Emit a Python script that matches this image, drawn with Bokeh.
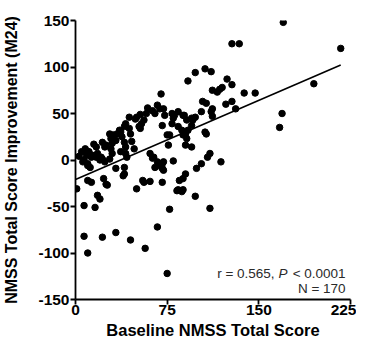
from bokeh.plotting import figure
from bokeh.models import Label, FixedTicker
from bokeh.embed import file_html
from bokeh.resources import INLINE

# Baseline NMSS total score (x) and improvement at M24 (y)
baseline = [170, 217, 128, 134, 195, 169, 167, 92, 98, 106, 111, 70, 124, 128, 138, 147,
            112, 116, 118, 120, 104, 107, 112, 123, 128, 131, 103, 111, 112, 79, 84, 88, 95, 91,
            67, 69, 63, 65, 58, 53, 50, 56, 54, 52, 53, 41, 40, 44, 45, 37, 34, 38, 28, 31, 33,
            30, 22, 24, 29, 30, 28, 40, 41, 37, 41, 42, 17, 18, 11, 9, 13, 7, 10, 6, 22, 24, 20,
            61, 64, 67, 65, 71, 72, 77, 72, 73, 71, 75, 76, 80, 79, 81, 89, 84, 87, 90, 92, 95,
            96, 98, 88, 91, 106, 107, 90, 95, 72, 80, 71, 71, 110, 108, 103, 99, 119, 90, 88, 85,
            88, 84, 10, 12, 1, 10, 13, 23, 25, 26, 18, 20, 7, 16, 33, 40, 40, 39, 50, 55, 56, 61,
            68, 77, 67, 33, 7, 10, 22, 45, 57, 75, 98, 110, 87, 83,
            5, 8, 14, 17, 21, 25, 29, 36, 44, 49, 59, 63, 3, 15, 46, 48]
improvement = [148, 120, 125, 125, 82, 50, 35, 85, 94, 98, 95, 71, 87, 81, 72, 72,
               75, 73, 76, 78, 63, 61, 55, 60, 63, 55, 52, 52, 47, 50, 52, 48, 45, 43,
               59, 55, 53, 50, 50, 49, 46, 43, 39, 36, 34, 39, 36, 34, 28, 30, 28, 25, 28, 27, 21,
               18, 19, 14, 12, 7, 1, 19, 14, 9, 7, 3, 14, 7, 9, 5, 3, 0, -4, -2, 1, -2, 0,
               7, 3, -2, -8, -4, -11, 27, 55, 48, 37, 27, 16, 45, 39, 48, 48, 36, 32, 28, 32, 37,
               43, 46, 27, 23, 30, 28, 16, 14, -2, -1, -9, -24, 7, 3, -4, -9, -2, -15, -20, -22,
               -32, -32, -6, -8, -31, -22, -24, -20, -26, -27, -38, -42, -49, -51, -9, -8, -15, -17, -31, -22, -24, -23,
               -6, -53, -72, -78, -82, -100, -83, -86, -95, -122, -39, -52, -34, -33,
               9, 12, 5, 3, 3, 16, 23, 32, 46, 44, 56, 2, 4, 17, 20, 12]

fit_x = [0, 217]
fit_y = [-21 + 0.567 * v for v in fit_x]

x_ticks = [0, 75, 150, 225]
y_ticks = [-150, -100, -50, 0, 50, 100, 150]
y_tick_labels = {t: str(t) for t in y_ticks}

FONT = "Liberation Sans"

p = figure(width=356, height=345, x_range=(0, 225), y_range=(-150, 150),
           output_backend="svg", toolbar_location=None,
           min_border_left=71, min_border_right=6, min_border_top=20, min_border_bottom=46)
p.outline_line_color = None
p.grid.visible = False
p.background_fill_color = "white"
p.border_fill_color = "white"

p.scatter(baseline, improvement, size=6.5, color="black", marker="circle")
p.line(fit_x, fit_y, line_color="black", line_width=1.6)

for ax in (p.xaxis[0], p.yaxis[0]):
    ax.axis_line_width = 1.8
    ax.axis_line_color = "black"
    ax.major_tick_line_width = 1.8
    ax.major_tick_line_color = "black"
    ax.major_tick_out = 5
    ax.major_tick_in = 0
    ax.minor_tick_line_color = None
    ax.major_label_text_font = FONT
    ax.major_label_text_font_style = "bold"
    ax.major_label_text_font_size = "15.5px"
    ax.major_label_text_color = "black"
    ax.axis_label_text_font = FONT
    ax.axis_label_text_font_style = "bold"
    ax.axis_label_text_color = "black"

p.xaxis.ticker = FixedTicker(ticks=x_ticks)
p.yaxis.ticker = FixedTicker(ticks=y_ticks)
p.yaxis.major_label_overrides = y_tick_labels
p.xaxis.major_label_standoff = 0
p.yaxis.major_label_standoff = 1
p.xaxis.axis_label = "Baseline NMSS Total Score"
p.xaxis.axis_label_text_font_size = "16.5px"
p.xaxis.axis_label_standoff = 3
p.yaxis.axis_label = "NMSS Total Score Improvement (M24)"
p.yaxis.axis_label_text_font_size = "16px"
p.yaxis.axis_label_standoff = 15

ann = dict(text_baseline="alphabetic", text_font=FONT, text_font_size="13.5px",
           text_color="#2a2a2a")
# "r = 0.565, P < 0.0001" with italic P, right-aligned at x = 221
p.add_layout(Label(x=221, y=-122, text="< 0.0001", text_align="right", **ann))
p.add_layout(Label(x=221, y=-122, x_offset=-58, text="P", text_align="right",
                   text_font_style="italic", **ann))
p.add_layout(Label(x=221, y=-122, x_offset=-71, text="r = 0.565,", text_align="right", **ann))
p.add_layout(Label(x=221, y=-138, text="N = 170", text_align="right", **ann))

open("out.html", "w").write(file_html(p, INLINE))
